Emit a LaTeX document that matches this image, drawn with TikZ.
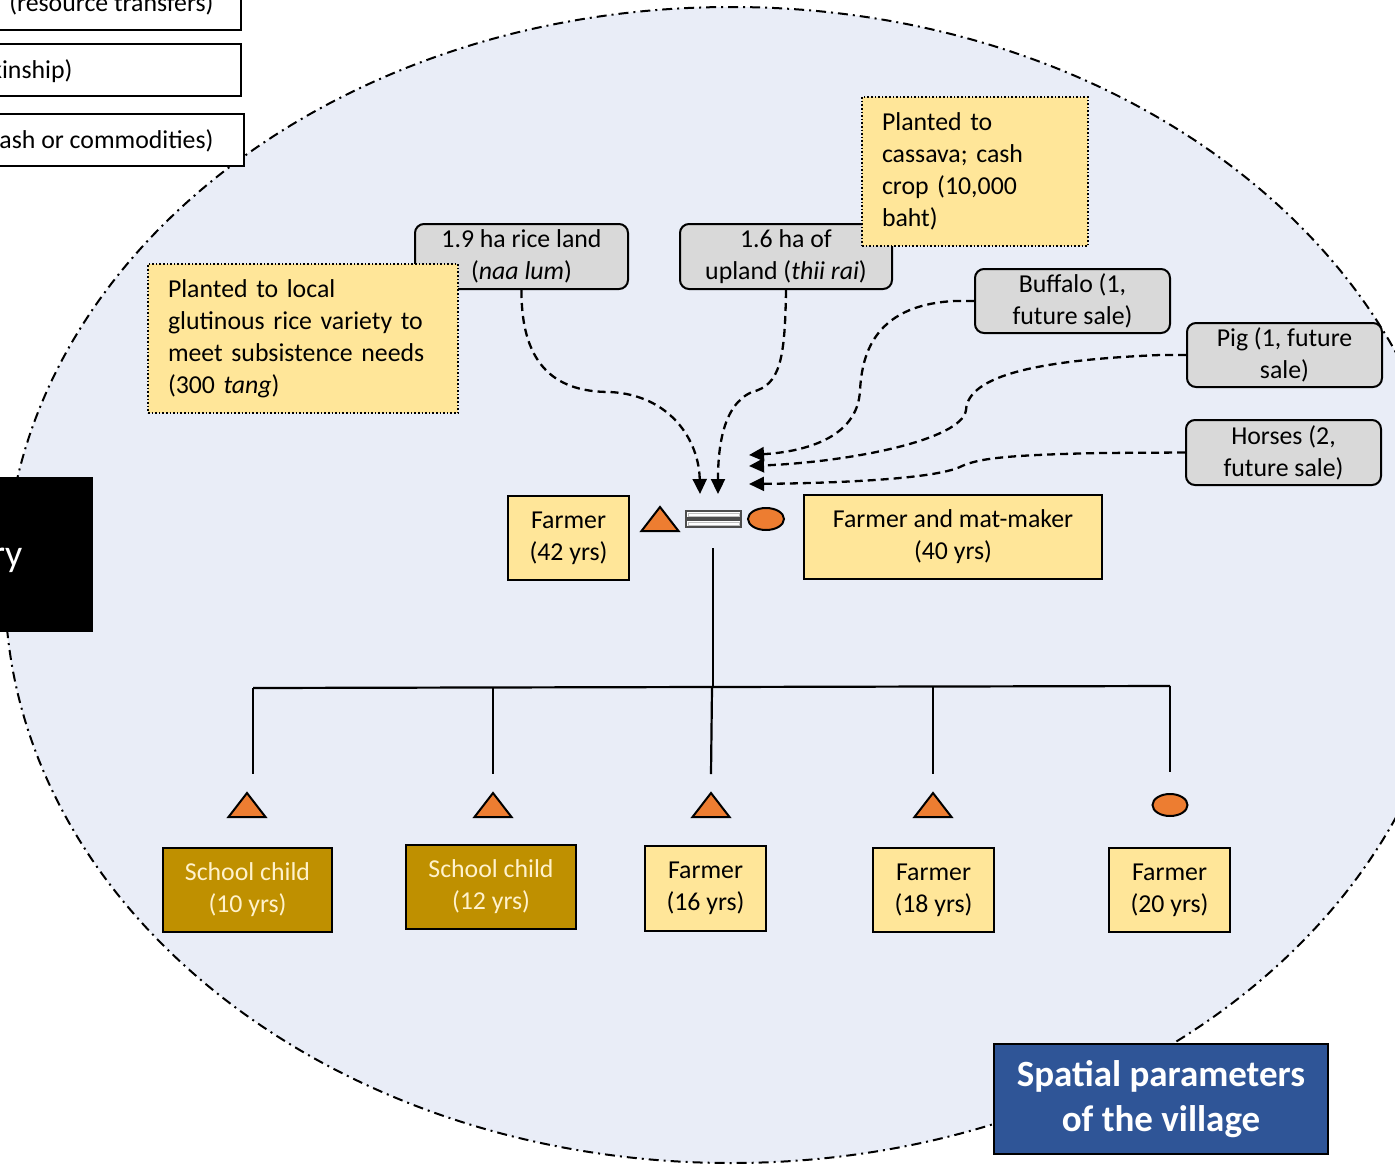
\documentclass[tikz,border=0pt]{standalone}
\usepackage{fontspec}
\setmainfont{Carlito}
\usetikzlibrary{shapes.geometric,arrows.meta}
\definecolor{bgblue}{RGB}{233,237,247}
\definecolor{grayf}{RGB}{217,217,217}
\definecolor{yel}{RGB}{255,230,153}
\definecolor{gold}{RGB}{191,144,0}
\definecolor{childtxt}{RGB}{255,242,204}
\definecolor{orangef}{RGB}{237,125,49}
\definecolor{spblue}{RGB}{47,85,151}
\begin{document}
\begin{tikzpicture}[x=1pt,y=-1pt,
  txt/.style={font=\fontsize{25.8}{32}\selectfont},
  graybox/.style={txt, draw, line width=2pt, rounded corners=9pt, fill=grayf, align=center, inner sep=0pt},
  callout/.style={txt, draw, dotted, line width=1.6pt, fill=yel, align=left, inner sep=0pt},
  person/.style={txt, draw, line width=1.8pt, fill=yel, align=center, inner sep=0pt},
  childbox/.style={person, fill=gold, text=childtxt},
  topbox/.style={draw, line width=2pt, fill=white, inner sep=0pt},
  flow/.style={draw, dash pattern=on 8pt off 5pt, line width=2.3pt, -{Triangle[length=15pt,width=14pt]}},
  symb/.style={draw=black, line width=2pt, fill=orangef},
  link/.style={draw, line width=2.2pt},
  tri/.pic={\draw[symb, line join=miter] (-18.5,12) -- (0,-12) -- (18.5,12) -- cycle;}
]
\useasboundingbox (0,0) rectangle (1395,1167);
\clip (0,0) rectangle (1395,1167);

% village ellipse
\draw[fill=bgblue, line width=2pt, dash pattern=on 10pt off 5pt on 2pt off 5pt]
  (731,585) ellipse [x radius=726, y radius=578];

% top-left legend boxes (cut off)
\node[topbox, minimum width=260, minimum height=50] (lg1) at (111,5) {};
\node[txt, anchor=base east] (lg1t) at (217,12) {(resource transfers)};
\node[topbox, minimum width=260, minimum height=52] (lg2) at (111,70) {};
\node[txt, anchor=base east] (lg2t) at (76,78) {kinship)};
\node[topbox, minimum width=263, minimum height=52] (lg3) at (112,140) {};
\node[txt, anchor=base east] (lg3t) at (217,148) {ash or commodities)};

% black box (cut off)
\node[fill=black, minimum width=103, minimum height=155, inner sep=0pt] (bb) at (41.5,554.5) {};
\node[text=white, anchor=base east, font=\fontsize{38}{44}\selectfont] (bbt) at (26,566) {ry};

% resources
\node[graybox, minimum width=213, minimum height=65] (rice) at (521.5,256.5) {1.9 ha rice land\\(\textit{naa lum})};
\node[graybox, minimum width=212, minimum height=65] (upland) at (786,256.5) {1.6 ha of\\upland (\textit{thii rai})};
\node[graybox, minimum width=195, minimum height=64] (buffalo) at (1072.5,301) {Buffalo (1,\\future sale)};
\node[graybox, minimum width=195, minimum height=64] (pig) at (1284.5,355) {Pig (1, future\\sale)};
\node[graybox, minimum width=195, minimum height=65] (horses) at (1283.5,452.5) {Horses (2,\\future sale)};

\node[callout, minimum width=310, minimum height=149, text width=270] (local) at (303,338.5)
  {Planted to local\\glutinous rice variety to\\meet subsistence needs\\(300 \textit{tang})};
\node[callout, minimum width=226, minimum height=149, text width=186] (cassava) at (975,171.5)
  {Planted to\\cassava; cash\\crop (10,000\\baht)};

% parents
\node[person, minimum width=121, minimum height=84] (f42) at (568.5,538) {Farmer\\(42 yrs)};
\node[person, minimum width=298, minimum height=84] (f40) at (953,537) {Farmer and mat-maker\\(40 yrs)};
\pic at (660,519) {tri};
\node[ellipse, symb, minimum width=36, minimum height=22, inner sep=0pt] (wife) at (766,519) {};
\node[minimum width=55, minimum height=16, inner sep=0pt] (marr) at (713.5,519) {};
\draw[fill=white, draw=black!70, line width=1.2pt] (686,511) rectangle (741,518);
\draw[fill=white, draw=black!70, line width=1.2pt] (686,520) rectangle (741,527);
\draw[draw=black!25, line width=0.8pt] (688,513) rectangle (739,516);
\draw[draw=black!25, line width=0.8pt] (688,522) rectangle (739,525);

% flows into household
\coordinate (in1) at (700,494);
\coordinate (in2) at (718,494);
\coordinate (in3) at (749,455);
\coordinate (in4) at (749,466);
\coordinate (in5) at (749,484);
\draw[flow] (rice.south) .. controls (521,370) and (560,392) .. (610,392)
  .. controls (670,395) and (699,440) .. (in1);
\draw[flow] (upland.south) .. controls (785,360) and (780,385) .. (752,392)
  .. controls (722,405) and (718,450) .. (in2);
\draw[flow] (buffalo.west) -- (955,301) .. controls (870,305) and (862,360) .. (860,390)
  .. controls (858,440) and (800,452) .. (in3);
\draw[flow] (pig.west) -- (1160,355) .. controls (1040,360) and (968,375) .. (966,410)
  .. controls (962,440) and (850,462) .. (in4);
\draw[flow] (horses.west) -- (1100,453) .. controls (1010,455) and (980,458) .. (962,466)
  .. controls (940,478) and (850,483) .. (in5);

% descent lines
\coordinate (dtop) at (713,548);
\coordinate (dbar) at (713,687);
\draw[link] (dtop) -- (dbar);
\coordinate (b1) at (253,688);
\coordinate (b2) at (493,688);
\coordinate (b3) at (712,688);
\coordinate (b4) at (933,687);
\coordinate (b5) at (1170,686);
\draw[link] (b1) -- (b5);
\coordinate (c1) at (253,774);
\coordinate (c2) at (493,774);
\coordinate (c3) at (711,774);
\coordinate (c4) at (933,774);
\coordinate (c5) at (1170,772);
\draw[link] (b1) -- (c1);
\draw[link] (b2) -- (c2);
\draw[link] (b3) -- (c3);
\draw[link] (b4) -- (c4);
\draw[link] (b5) -- (c5);

% children
\pic at (247,805) {tri};
\pic at (493,805) {tri};
\pic at (711,805) {tri};
\pic at (933,805) {tri};
\node[ellipse, symb, minimum width=35, minimum height=22, inner sep=0pt] (dau) at (1170,805) {};

\node[childbox, minimum width=169, minimum height=84] (ch10) at (247.5,890) {School child\\(10 yrs)};
\node[childbox, minimum width=170, minimum height=84] (ch12) at (491,887) {School child\\(12 yrs)};
\node[person, minimum width=121, minimum height=85] (f16) at (705.5,888.5) {Farmer\\(16 yrs)};
\node[person, minimum width=121, minimum height=84] (f18) at (933.5,890) {Farmer\\(18 yrs)};
\node[person, minimum width=121, minimum height=84] (f20) at (1169.5,890) {Farmer\\(20 yrs)};

% spatial parameters
\node[draw, line width=2pt, fill=spblue, text=white, minimum width=334, minimum height=110,
  inner sep=0pt, align=center, font=\bfseries\fontsize{37}{45}\selectfont] (spatial) at (1161,1099)
  {Spatial parameters\\of the village};
\end{tikzpicture}
\end{document}
